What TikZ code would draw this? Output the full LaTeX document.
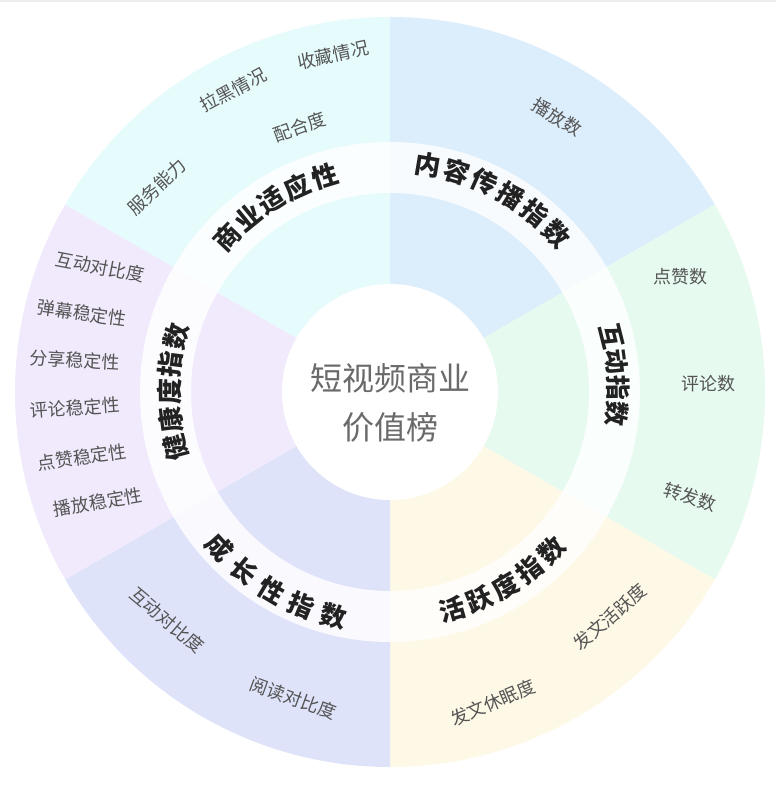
\documentclass[tikz,border=0pt]{standalone}
\usepackage{fontspec}
\setmainfont{Noto Sans CJK SC}
\definecolor{cCyan}{HTML}{E6FBFC}
\definecolor{cBlue}{HTML}{DCEDFC}
\definecolor{cGreen}{HTML}{E6FAEF}
\definecolor{cCream}{HTML}{FEF9E7}
\definecolor{cLav}{HTML}{DFE3FA}
\definecolor{cPurple}{HTML}{F1EAFC}
\definecolor{inkdark}{HTML}{222222}
\definecolor{inkgray}{HTML}{555555}
\definecolor{inktitle}{HTML}{6A6A6A}
\newcommand{\ringcw}[7]{% name, center angle, step, radius, count, font size, chars
  \foreach \ch [count=\i] in {#7}{
    \pgfmathsetmacro\ang{#2+((#5+1)/2-\i)*#3}
    \node[inlbl, font=\fontsize{#6}{#6}\selectfont\bfseries, rotate=\ang-90] (#1-\i) at (\ang:#4) {\ch};
  }}
\newcommand{\ringccw}[7]{%
  \foreach \ch [count=\i] in {#7}{
    \pgfmathsetmacro\ang{#2-((#5+1)/2-\i)*#3}
    \node[inlbl, font=\fontsize{#6}{#6}\selectfont\bfseries, rotate=\ang+90] (#1-\i) at (\ang:#4) {\ch};
  }}
\begin{document}
\begin{tikzpicture}[x=1pt,y=1pt,
  inlbl/.style={text=inkdark, inner sep=0pt},
  outlbl/.style={font=\fontsize{18}{18}\selectfont, text=inkgray, inner sep=0pt},
  titlelbl/.style={font=\fontsize{32}{32}\selectfont, text=inktitle, inner sep=0pt}]
\useasboundingbox (-390,-394) rectangle (386,392);
\fill[white] (-390,-394) rectangle (386,392);
\fill[black!7] (-390,389.8) rectangle (386,392);
% sectors
\foreach \s/\e/\c in {30/90/cBlue, -30/30/cGreen, -90/-30/cCream, -150/-90/cLav, 150/210/cPurple, 90/150/cCyan}
  \fill[\c] (0,0) -- (\s:375) arc[start angle=\s, end angle=\e, radius=375] -- cycle;
% band
\fill[white, opacity=0.82, even odd rule] (0,0) circle[radius=250] (0,0) circle[radius=199];
% hub
\node[circle, fill=white, minimum size=216pt, inner sep=0pt] (hub) at (0,0) {};
\node[titlelbl] (title1) at (0,14) {短视频商业};
\node[titlelbl] (title2) at (0,-35) {价值榜};
% inner ring labels
\ringcw{biz}{121.7}{7.4}{225}{5}{26}{商,业,适,应,性}
\ringcw{spread}{62}{7.4}{230}{6}{26}{内,容,传,播,指,数}
\ringcw{inter}{4.3}{6.5}{228}{4}{25}{互,动,指,数}
\ringccw{act}{-59.3}{7.4}{226}{5}{26}{活,跃,度,指,数}
\ringccw{grow}{-120.9}{8.35}{231}{5}{26}{成,长,性,指,数}
\ringcw{health}{180}{7.3}{221}{5}{26}{健,康,度,指,数}
% outer labels: 商业适应性
\node[outlbl, rotate=12] (bizA) at (-57,337) {收藏情况};
\node[outlbl, rotate=28] (bizB) at (-157,302) {拉黑情况};
\node[outlbl, rotate=20] (bizC) at (-90,265) {配合度};
\node[outlbl, rotate=43] (bizD) at (-233,205) {服务能力};
% 内容传播指数
\node[outlbl, rotate=-32] (spreadA) at (167,275) {播放数};
% 互动指数
\node[outlbl] (interA) at (290,115) {点赞数};
\node[outlbl] (interB) at (318,8) {评论数};
\node[outlbl, rotate=-17] (interC) at (300,-105) {转发数};
% 活跃度指数
\node[outlbl, rotate=41] (actA) at (220,-225) {发文活跃度};
\node[outlbl, rotate=23] (actB) at (103,-311) {发文休眠度};
% 成长性指数
\node[outlbl, rotate=-40] (growA) at (-223,-228) {互动对比度};
\node[outlbl, rotate=-20] (growB) at (-97,-306) {阅读对比度};
% 健康度指数
\node[outlbl, rotate=-11] (healthA) at (-290,125) {互动对比度};
\node[outlbl, rotate=-8] (healthB) at (-308,79) {弹幕稳定性};
\node[outlbl, rotate=-3] (healthC) at (-315,32) {分享稳定性};
\node[outlbl, rotate=4] (healthD) at (-315,-16) {评论稳定性};
\node[outlbl, rotate=8] (healthE) at (-308,-65) {点赞稳定性};
\node[outlbl, rotate=10] (healthF) at (-292,-110) {播放稳定性};
\end{tikzpicture}
\end{document}
